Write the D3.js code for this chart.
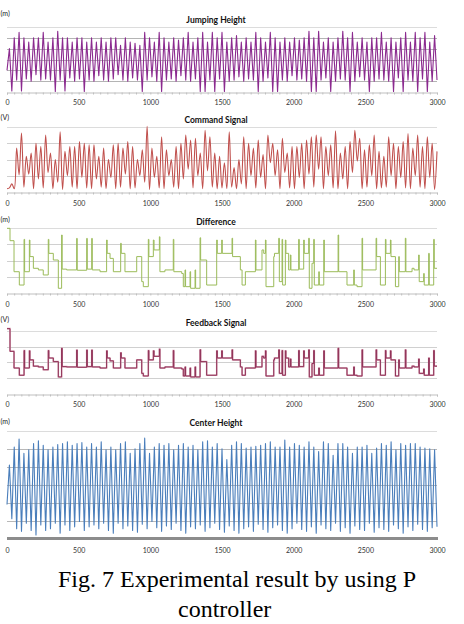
<!DOCTYPE html>
<html><head><meta charset="utf-8">
<script src="https://cdn.jsdelivr.net/npm/d3@7"></script>
<style>body{margin:0;background:#fff}svg{display:block}</style>
</head><body><svg id="c" width="464" height="624"></svg>
<script>
// ---------------- DATA ----------------
const xTicks = [0, 500, 1000, 1500, 2000, 2500, 3000];
const titles = ["Jumping Height", "Command Signal", "Difference", "Feedback Signal", "Center Height"];
const units = ["(m)", "(V)", "(m)", "(V)", "(m)"];
const caption1 = "Fig. 7 Experimental result by using P";
const caption2 = "controller";

// Jumping height: start value, then alternating peak / trough per cycle
const jumpStart = 2.0;
const jumpPeaks = [4.0,5.0,5.5,5.0,4.6,5.0,5.0,5.5,4.6,5.0,
 5.6,5.0,5.0,4.6,5.0,5.0,4.6,5.0,4.6,5.0,
 4.6,5.0,5.0,4.3,5.0,4.6,4.5,4.3,5.5,5.0,
 4.6,5.5,5.0,4.6,5.0,4.8,5.0,5.5,4.6,5.0,
 5.5,4.6,5.5,5.0,5.5,4.6,5.0,5.2,4.6,5.0,
 4.6,5.5,5.0,4.6,5.5,5.0,4.6,5.0,4.6,5.0,
 4.8,5.0,5.6,5.0,5.6,4.6,5.0,4.6,5.0,5.6,
 5.0,5.5,4.6,5.0,4.6,5.0,5.0,5.5,4.6,5.0,
 4.6,5.0,5.5,4.6,5.5,5.0,5.5,4.6,5.2];
const jumpTroughs = [0.1,1.1,0.1,1.2,1.0,1.6,1.1,1.2,1.1,0.05,
 1.1,0.1,1.3,1.0,1.2,0.05,1.1,1.0,1.5,1.1,
 1.0,1.2,1.6,1.1,1.0,1.3,1.1,0.05,1.1,1.4,
 1.0,0.05,1.1,1.2,1.0,1.5,1.1,1.0,1.2,0.05,
 0.05,1.1,0.05,1.2,0.05,1.0,1.1,1.4,1.0,1.2,
 1.1,0.05,1.0,1.3,0.05,0.05,1.1,1.0,1.5,1.1,
 1.2,1.0,0.05,0.05,1.1,1.3,0.05,1.0,1.2,1.1,
 0.05,1.0,1.4,1.1,0.05,1.0,1.2,1.1,1.0,0.05,
 1.3,0.05,1.1,1.0,0.05,1.2,0.05,1.0,1.1];

// Command signal: 4 start samples, then alternating peak / trough
const cmdStart = [0.2, 0.25, 0.5, 0.2];
const cmdPeaks = [2.7,3.63,2.2,2.4,3.0,2.8,3.5,2.4,2.0,3.7,
 2.5,2.8,2.8,3.1,3.0,2.9,2.9,2.2,2.7,2.0,
 2.9,3.0,2.7,3.1,2.8,2.0,2.6,4.05,2.7,2.2,
 3.4,2.6,2.0,2.8,3.0,3.5,3.2,3.3,2.4,3.8,
 3.4,2.4,2.2,1.8,3.7,
 1.5,2.0,3.4,3.0,2.7,3.2,2.3,3.5,3.0,2.6,
 3.3,2.4,2.8,2.8,3.0,3.2,3.4,3.5,3.4,2.8,
 2.9,3.77,2.4,2.8,3.1,3.8,3.3,2.6,2.9,3.5,
 2.5,2.2,3.4,3.0,2.8,3.1,3.6,2.7,3.5,2.8,
 3.4,3.0,2.5];
const cmdTroughs = [1.05,0.3,1.1,0.2,0.8,0.25,1.2,0.2,0.6,0.15,
 1.0,0.3,0.2,0.9,0.25,0.2,0.8,0.3,0.2,0.9,
 0.2,0.3,1.1,0.2,0.25,1.0,0.6,0.15,0.9,0.25,
 0.2,1.0,0.3,0.2,0.8,1.4,0.25,1.0,0.2,1.3,
 0.3,0.2,0.25,0.2,0.3,0.2,0.5,0.2,1.0,0.25,
 0.9,0.2,1.8,1.0,0.2,1.2,0.25,0.2,0.9,0.2,
 1.1,0.3,1.4,0.2,1.0,0.25,0.2,0.8,0.2,1.2,
 1.9,0.2,0.3,1.0,0.2,0.25,0.3,1.0,0.2,0.9,
 0.25,0.2,1.0,0.3,0.2,0.9,0.15];

// Difference and Feedback: step changes (time, level)
const stepT = [0,21,49,86,119,123,156,160,184,219,
 253,288,292,323,358,381,385,416,486,490,
 556,560,591,595,649,695,699,719,742,793,
 797,823,905,940,951,986,990,1021,1026,1063,
 1067,1102,1160,1164,1219,1230,1242,1246,1277,1281,
 1312,1316,1347,1351,1393,1463,1467,1498,1502,1570,
 1574,1628,1640,1663,1733,1737,1779,1791,1803,1807,
 1861,1866,1896,1900,1919,1923,1942,1946,1965,1977,
 1981,2035,2039,2070,2074,2105,2109,2128,2140,2144,
 2175,2179,2210,2214,2310,2314,2372,2419,2423,2442,
 2477,2481,2575,2579,2605,2640,2644,2675,2679,2710,
 2733,2737,2779,2783,2826,2840,2872,2876,2907,2911,
 2942,2946,2977,2981,3000];
const diffV = [3.98,3.22,1.31,0.49,3.30,1.31,3.26,2.24,1.52,1.42,
 1.11,3.30,2.44,2.03,0.29,3.57,1.47,1.42,3.36,1.40,
 3.36,1.47,3.36,1.42,1.31,3.26,2.44,2.13,1.31,3.06,
 2.44,1.31,2.24,0.70,0.39,3.30,2.24,3.26,2.65,3.46,
 1.31,1.42,3.30,1.31,1.20,0.39,1.42,0.39,1.31,0.29,
 1.42,0.29,3.40,2.03,0.49,3.26,2.44,3.26,2.44,3.37,
 2.24,1.42,0.49,1.31,3.26,1.42,2.65,2.44,3.26,0.39,
 2.24,2.44,3.37,0.70,3.30,0.49,3.26,2.44,1.42,2.34,
 1.42,3.30,1.47,3.26,2.44,3.37,0.29,1.83,3.30,0.49,
 1.31,0.49,3.26,1.31,3.57,1.31,0.49,1.42,0.49,0.39,
 3.37,1.42,3.37,2.24,0.49,3.30,2.44,3.26,2.24,0.39,
 2.24,1.31,3.37,1.31,1.52,1.42,2.34,0.70,1.20,0.49,
 2.44,0.49,3.30,1.52,1.52];
const fbV = [4.15,2.70,1.63,1.17,2.75,1.63,2.73,2.15,1.75,1.70,
 1.52,2.75,2.27,2.04,1.06,2.90,1.72,1.70,2.78,1.68,
 2.78,1.72,2.78,1.70,1.63,2.73,2.27,2.09,1.63,2.61,
 2.27,1.63,2.15,1.29,1.12,2.75,2.15,2.73,2.38,2.84,
 1.63,1.70,2.75,1.63,1.57,1.12,1.70,1.12,1.63,1.06,
 1.70,1.06,2.80,2.04,1.17,2.73,2.27,2.73,2.27,2.79,
 2.15,1.70,1.17,1.63,2.73,1.70,2.38,2.27,2.73,1.12,
 2.15,2.27,2.79,1.29,2.75,1.17,2.73,2.27,1.70,2.21,
 1.70,2.75,1.72,2.73,2.27,2.79,1.06,1.92,2.75,1.17,
 1.63,1.17,2.73,1.63,2.90,1.63,1.17,1.70,1.17,1.12,
 2.79,1.70,2.79,2.15,1.17,2.75,2.27,2.73,2.15,1.12,
 2.15,1.63,2.79,1.63,1.75,1.70,2.21,1.29,1.57,1.17,
 2.27,1.17,2.75,1.75,1.75];

// Center height: start value, then alternating peak / trough per cycle
const centerStart = 1.9;
const centerPeaks = [4.1,5.1,5.55,4.75,4.95,5.3,5.45,5.2,4.95,5.1,
 5.25,5.3,5.4,5.2,5.3,5.35,5.1,5.3,5.1,5.4,
 4.95,5.1,4.95,5.3,5.4,4.75,5.0,5.3,5.6,4.75,
 5.1,5.3,5.2,5.3,4.95,5.2,5.3,5.1,5.2,4.95,
 5.4,5.45,5.1,5.3,5.0,4.4,5.2,5.4,5.3,5.05,
 5.1,5.15,5.2,5.3,5.4,5.1,5.1,5.5,5.1,5.3,
 5.2,5.1,5.4,5.1,4.85,5.4,5.3,4.65,5.3,5.3,
 5.1,4.75,5.1,5.1,5.2,4.75,5.05,5.3,5.2,5.4,
 4.95,5.3,5.2,5.3,5.3,5.1,5.05,5.0,4.95];
const centerTroughs = [1.1,0.55,0.4,0.85,0.45,0.2,0.75,0.45,0.55,0.85,
 0.3,0.75,0.45,0.65,0.95,0.45,0.65,0.75,0.55,0.85,
 0.45,0.3,0.85,0.55,0.7,0.45,0.35,0.8,0.55,0.95,
 0.6,0.4,0.7,0.5,0.85,0.45,0.3,0.65,0.55,0.75,
 0.4,0.6,0.85,0.5,0.35,0.7,0.45,0.3,0.55,0.65,
 0.4,0.8,0.5,0.35,0.6,0.75,0.45,0.3,0.55,0.85,
 0.5,0.4,0.65,0.3,0.75,0.55,0.45,0.85,0.4,0.6,
 0.3,0.7,0.5,0.45,0.85,0.35,0.6,0.5,0.4,0.75,
 0.55,0.3,0.65,0.45,0.8,0.5,0.4,0.6,0.65];

// ---------------- BUILD TABLES ----------------
const half = 3000 / 178;
function cycles(start, peaks, troughs) {
  const rows = [{t: 0, v: start}];
  peaks.forEach((p, k) => {
    rows.push({t: (2 * k + 1) * half, v: p});
    rows.push({t: (2 * k + 2) * half, v: troughs[k]});
  });
  return rows;
}
const jumpRows = cycles(jumpStart, jumpPeaks, jumpTroughs);
const centerRows = cycles(centerStart, centerPeaks, centerTroughs);
const cmdRows = cmdStart.map((v, i) => ({t: i * half, v}));
cmdPeaks.forEach((p, k) => {
  cmdRows.push({t: (4 + 2 * k) * half, v: p});
  if (k < cmdTroughs.length) cmdRows.push({t: (5 + 2 * k) * half, v: cmdTroughs[k]});
});
const diffRows = stepT.map((t, i) => ({t, v: diffV[i]}));
const fbRows = stepT.map((t, i) => ({t, v: fbV[i]}));

// ---------------- DRAW ----------------
const svg = d3.select("#c");
svg.append("rect").attr("width", 464).attr("height", 624).attr("fill", "#fff");
const x = d3.scaleLinear().domain([0, 3000]).range([7, 437]);
const sans = "Lato, 'Open Sans', 'Liberation Sans', sans-serif";

const panels = [
  {rows: jumpRows, top: 27, bottom: 92, n: 6, color: "#8b2a8f", width: 1.1, curve: d3.curveLinear,
   grid: "#b4b4b4", titleY: 23, unitY: 16, labelY: 105},
  {rows: cmdRows, top: 127, bottom: 192, n: 4, color: "#c0504d", width: 1.1, curve: d3.curveCatmullRom.alpha(0.5),
   grid: "#d0d0d0", titleY: 123, unitY: 120, labelY: 206},
  {rows: diffRows, top: 228, bottom: 293, n: 4, color: "#9bbb59", width: 1, curve: d3.curveStepAfter,
   grid: "#d0d0d0", titleY: 225, unitY: 222, labelY: 307},
  {rows: fbRows, top: 331, bottom: 393.5, n: 4, color: "#8e2f55", width: 1, curve: d3.curveStepAfter,
   grid: "#d0d0d0", titleY: 326, unitY: 322, labelY: 407, under: "#d9a3b6"},
  {rows: centerRows, top: 431, bottom: 538.5, n: 6, color: "#4a7ebb", width: 1.1, curve: d3.curveLinear,
   grid: "#b8b8b8", titleY: 426, unitY: 424, labelY: 553, thickAxis: true}
];

panels.forEach((p, i) => {
  const y = d3.scaleLinear().domain([0, p.n]).range([p.bottom, p.top]);
  const g = svg.append("g");
  // gridlines
  g.selectAll("line.grid").data(d3.range(1, p.n + 1)).join("line")
    .attr("x1", 7).attr("x2", 437)
    .attr("y1", d => Math.round(y(d)) + 0.5).attr("y2", d => Math.round(y(d)) + 0.5)
    .attr("stroke", (d) => d === p.n ? "#dcdcdc" : p.grid).attr("stroke-width", 1);
  // data line
  const line = d3.line().x(d => x(d.t)).y(d => y(d.v)).curve(p.curve);
  if (p.under) {
    g.append("path").datum(p.rows).attr("d", line).attr("fill", "none")
      .attr("stroke", p.under).attr("stroke-width", 1.6);
  }
  g.append("path").datum(p.rows).attr("d", line).attr("fill", "none")
    .attr("stroke", p.color).attr("stroke-width", p.width).attr("stroke-linejoin", "round");
  // x axis
  const yb = Math.round(p.bottom) + 0.5;
  if (p.thickAxis) {
    g.append("rect").attr("x", 7).attr("width", 431).attr("y", p.bottom - 1.5).attr("height", 3)
      .attr("fill", "#8c8c8c");
  } else {
    const minor = g.append("g").attr("transform", `translate(0,${yb})`)
      .call(d3.axisBottom(x).tickValues(d3.range(0, 3001, 50)).tickSize(2).tickFormat(""));
    minor.select(".domain").attr("stroke", "#bfbfbf");
    minor.selectAll(".tick line").attr("stroke", "#bfbfbf");
  }
  const xa = g.append("g").attr("transform", `translate(0,${p.labelY})`)
    .call(d3.axisBottom(x).tickValues(xTicks).tickSize(0).tickPadding(0).tickFormat(d3.format("d")));
  xa.select(".domain").remove();
  xa.selectAll("text").attr("dy", 0).attr("font-family", sans).attr("font-size", 7).attr("fill", "#333");
  xa.selectAll(".tick").filter(d => d === 0).select("text").attr("text-anchor", "start").attr("x", -2);
  // title and unit
  svg.append("text").attr("x", 216).attr("y", p.titleY).attr("text-anchor", "middle")
    .attr("font-family", sans).attr("font-weight", "bold").attr("font-size", 8.5).attr("fill", "#111")
    .text(titles[i]);
  svg.append("text").attr("x", 0.5).attr("y", p.unitY).attr("text-anchor", "start")
    .attr("font-family", sans).attr("font-size", 7).attr("fill", "#222").text(units[i]);
});

// caption
svg.append("text").attr("x", 58).attr("y", 587).attr("font-family", "'Liberation Serif', 'Times New Roman', serif")
  .attr("font-size", 24).attr("fill", "#000").text(caption1);
svg.append("text").attr("x", 178).attr("y", 617).attr("font-family", "'Liberation Serif', 'Times New Roman', serif")
  .attr("font-size", 24).attr("fill", "#000").text(caption2);
</script>
</body></html>
